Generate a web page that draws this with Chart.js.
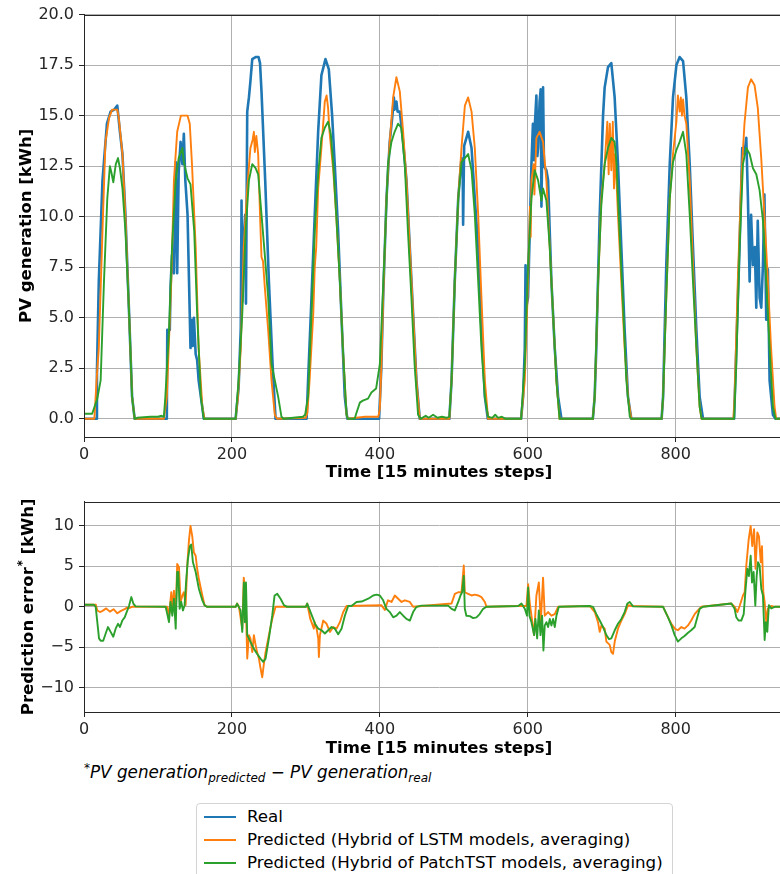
<!DOCTYPE html>
<html>
<head>
<meta charset="utf-8">
<script src="https://cdn.jsdelivr.net/npm/chart.js@4/dist/chart.umd.min.js"></script>
<style>
html,body{margin:0;padding:0;overflow:hidden;background:#fff;}
body{width:780px;height:874px;position:relative;font-family:'DejaVu Sans',sans-serif;}
#w1{position:absolute;left:0;top:0;}
#w2{position:absolute;left:0;top:487px;}
canvas{display:block;}
#foot{position:absolute;left:84px;top:761px;font-size:16.8px;font-style:italic;white-space:nowrap;color:#000;}
#foot sub{font-size:12px;vertical-align:-4px;}
#foot sup{font-size:12px;vertical-align:6px;font-style:normal;}
#legend{position:absolute;left:196px;top:803px;width:477px;height:90px;border:1px solid #d4d4d4;border-radius:4px;box-sizing:border-box;background:#fff;}
.li{position:absolute;left:0;height:23px;white-space:nowrap;font-size:16.7px;color:#000;}
.li span.h{position:absolute;left:7px;top:11px;width:32px;height:0;border-top:2px solid;}
.li span.t{position:absolute;left:50px;top:1px;}
</style>
</head>
<body>
<div id="w1"><canvas id="c1" width="820" height="490"></canvas></div>
<div id="w2"><canvas id="c2" width="820" height="274"></canvas></div>
<div id="foot"><sup>*</sup>PV generation<sub>predicted</sub> − PV generation<sub>real</sub></div>
<div id="legend"></div>
<script>
// ---------- data ----------
const seriesLabels = ['Real', 'Predicted (Hybrid of LSTM models, averaging)', 'Predicted (Hybrid of PatchTST models, averaging)'];
const seriesColors = ['#1f77b4', '#ff7f0e', '#2ca02c'];

const xTicks = [0, 200, 400, 600, 800];
const yTicksTop = [0, 2.5, 5, 7.5, 10, 12.5, 15, 17.5, 20];
const yTicksBottom = [-10, -5, 0, 5, 10];

const realX = [0,17,17.5,20,25,31,36,41,45,48.6,52,56,61,65,68.5,
112,112.6,116,117,119,121.6,124,126,128,130.6,133,135,137,140,142,144,146,147,148.6,151,153,155,158,162,
205,209,212,213,214,216,218,219,220.7,223,225,227.5,232,236,238,240,245,250,255,259,
301,303,307.6,312,316.6,321,326.5,331,335.5,339,343.6,348,352.6,356,
399,402,404.5,409,413.4,417,419,420,422.4,424,427,431.5,436,440.5,445,449.5,454,
494,497,501.3,506,510.4,512,512.6,514,519.4,524,528.4,533,537.4,542,546,
591,593.7,596,597,598,600.4,602.7,605,607,608.5,609.4,611.7,613,614,616,617.5,618.5,620.7,622,625.2,627.5,629.7,632,636.5,641,645.5,
688,690.5,692.7,697.3,701.8,704,708.5,713,717.5,722,726.5,731,735.5,740,
781,783,787.3,792,796.4,801,805.4,810,814.4,819,823.4,828,832.4,837,
879,882,886.4,890,893,895.5,897.7,900,902,904.5,907,909,911,913.5,915.7,918,920,922.5,924.7,927,931.5,935,960];
const realY = [0,0,2.3,6.8,11.8,14.6,15.2,15.3,15.5,14.2,13.1,10.1,5.2,1.1,0,
0,4.4,4.4,6.5,8.1,7.2,12.7,7.2,12.2,13.7,12.6,14.1,11.8,10.1,6.8,3.5,4.9,3.6,5.0,3.2,2.9,1.9,1.1,0,
0,1.5,4.5,10.8,5.8,9,10.1,5.7,15.2,15.9,16.7,17.8,17.9,17.9,17.6,16.2,11.8,6.8,2.7,0,
0,1.9,6.0,10.1,14.2,17.0,17.8,17.3,15.0,12.6,9.3,5.2,1.1,0,
0,2.5,6.0,10.9,13.7,15.0,15.9,15.3,15.7,15.2,15.2,13.7,11.8,8.5,5.2,1.9,0,
0,1.9,6.8,10.9,12.9,12.8,9.6,13.5,14.2,13.4,10.9,8.5,4.4,1.1,0,
0,1.1,3.5,7.6,5.5,6.0,9.3,12.6,14.6,12.8,14.4,16.0,13.0,13.4,15.7,16.3,10.5,16.4,12.5,12.3,11.8,9.3,6.8,3.5,1.1,0,
0,1.1,3.5,10.1,15.0,16.4,17.4,17.6,15.9,12.6,8.5,4.4,1.1,0,
0,1.1,7.6,12.6,15.9,17.5,17.9,17.7,15.9,12.6,8.5,4.4,1.1,0,
0,3.5,8.5,13.4,13.1,13.9,10.9,6.8,10.1,7.6,8.5,5.5,9.8,6.0,5.5,7.6,11.1,4.9,7.4,1.9,0.2,0,0];

const lstmX = [0,14,17,20,25,29,34,38,45,47,52,56,61,65,68.5,
108,112,118,121.6,126,131,140,143,146,151,155,160,163,
205,208,212,216,220.7,225,228,229.7,231,233,235.5,238,240,242,244.5,249,253.5,258,261,
300,302,305,310,312,314,316.6,321,325.6,328,330,332,337,341,346,350,355,357,
380,398,400,402,404.5,409,413.4,418,422.4,427,431.5,436,440.5,445,449.5,454,
494,497,501.3,506,510.4,515,519.4,524,528.4,533,537.4,542,546.4,
591,596,600.4,603,604,605,608,609,611.7,616,620.7,625.2,629.7,634.2,638.7,643,
688,690.5,695,699.5,704,707.6,709.4,711,713,715,716.6,718.4,722,726.5,731,735.5,740,
781,783,787.3,792,796.4,801,803,805.4,807,808.5,810,812,814.4,819,823.4,828,832.4,835,
878,879.7,884,888.7,893,897.7,902,906.7,911,915.7,920,924.7,929,933.7,936,960];
const lstmY = [0,0,1.9,3.5,9.3,13.7,14.9,15.3,15.3,14.9,13.1,10.0,5.2,1.1,0,
0,1.1,6.8,11.8,14.2,15.0,15.0,14.6,12.6,8.5,3.5,0.6,0,
0,1.0,3.5,8.5,11.4,13.4,13.8,14.2,13.2,14.0,13.1,10.1,8.0,7.8,6.5,4.4,1.9,0.2,0,
0.05,0.3,1.9,5.2,7.5,8.5,11.4,13.4,15.7,16.0,15.4,14.2,12.3,10.1,6.8,3.5,0.2,0,
0.1,0.1,0.5,2.5,6.0,10.9,13.7,15.9,16.9,16.2,14.2,11.8,8.5,5.2,1.9,0,
0,1.9,6.8,10.9,13.4,15.5,15.9,15.2,13.4,10.1,6.0,1.9,0,
0,1.9,6.8,10.5,9.0,11.8,12.6,11.1,13.9,14.2,13.7,11.8,8.5,5.2,1.9,0,
0,1.1,6.5,10.9,12.6,14.7,12.1,14.6,12.3,14.7,11.4,13.1,10.1,6.8,3.5,1.1,0,
0,1.1,6.0,10.9,13.1,14.7,16.0,15.2,15.9,15.0,15.8,15.0,14.6,11.8,7.6,3.5,0.6,0,
0,1.1,6.8,11.8,14.6,16.4,16.8,16.5,15.4,12.9,10.1,6.8,3.5,0.6,0,0];

const tstX = [0,11,18,22.5,27,31.5,35,37,39.6,43,46,48.6,52,56,61,65,68.5,
72,90,100,105,108,110,115,119,124,128,133,135,140,144,149,153,158,162,
205,209,214,218.5,223,227.5,232,235.5,240,244.5,249,253.5,258,262.5,267,270,
296,299,303,307.6,312,316.6,321,325.6,330,333.7,337,341,346,350,355,357,366,368,373,377,384,388.6,395,400,402,406.7,411,415.7,420,424.7,429,433.7,438,442.7,447,451.7,455,462,466,472,478,484,490,494,
497,501.3,506,510.4,515,519.4,524,528.4,533,537.4,542,546.4,552,556,560,565,570,591,
596,600.4,605,609.4,614,618.5,620.7,625.2,629.7,634.2,638.7,643,
688,690.5,695,699.5,704,708.5,713,717.5,720,724,729,733.3,738,740,
781,783,787.3,792,796.4,801,805.4,810,814.4,819,823.4,828,832.4,835,
879,882,886.4,891,895.5,900,904.5,909,913.5,918,922.5,927,931.5,935,960];
const tstY = [0.25,0.25,1.0,1.9,6.8,10.9,12.5,12.2,11.7,12.6,12.9,12.4,11.4,9.3,5.2,1.1,0,
0.05,0.1,0.1,0.15,0.1,1.1,4.4,8.5,11.8,12.9,13.4,12.7,11.9,11.6,9.3,5.2,1.1,0,
0,1.9,5.2,9.3,11.8,12.6,12.4,12.1,10.1,8.1,6.0,2.7,1.9,1.1,0.1,0,
0.1,0.2,1.1,5.2,9.3,12.1,13.9,14.4,14.7,14.1,12.6,10.1,6.8,3.5,0.2,0,0,0.25,0.8,0.9,1.0,1.3,1.5,2.7,4.4,8.5,12.6,13.7,14.2,14.6,14.4,12.6,9.3,6.0,2.7,0.2,0,0.15,0.05,0.2,0.05,0.1,0.05,0.1,
1.9,6.8,10.9,12.7,12.9,13.1,12.3,10.1,6.8,3.5,1.1,0.1,0.05,0.2,0.05,0.1,0,0,
2.7,7.6,10.9,12.3,11.8,10.8,11.4,10.8,8.5,5.2,1.9,0,
0,1.1,6.8,10.6,12.6,13.4,13.9,13.7,12.6,9.3,5.5,1.9,0.1,0,
0,1.1,6.0,10.9,12.7,13.3,13.7,14.2,13.1,10.1,6.8,3.5,0.6,0,
0,2.7,8.5,12.6,13.4,13.1,12.4,12.1,11.3,9.8,6.8,3.5,0.6,0,0];

const errLstmX = [0,16,18,21.6,25,30,35,40,45,50,55,58,60,65,
112.6,115,118,119.4,121.6,124,126,128.4,130.6,133,135,137.4,139.6,142,144,146.4,148.6,151,153,155.4,160,163,166.7,
205,207,209.5,214,216,218.5,220.7,223,225,227.5,229.7,232,234,236.5,238.7,241,243,245.5,250,254.5,259,
300,301.8,306,310.8,312,314.5,316.7,317.6,319,323.5,328,332.5,337,341.5,346,350.5,355,
402,406.8,411,415.8,420.3,424.8,429.3,433.8,440.6,445,
497,501.4,506,510.4,513.5,514.9,519.4,524,528.4,533,537.4,542,544.2,
587,598.2,600.5,602.7,605,608.6,611.7,615,617.6,620.7,623,627.5,632,636.5,641,
683.8,690.6,695,697.3,699.6,704,706.3,710.8,713,715.3,717.6,722,726.6,731,735.6,740,
783,789.7,794.2,798.7,803,807.7,812,816.7,821,825.7,830,834.7,
875,879.7,883.4,886.5,891,893.3,895.5,898.7,901.4,903.6,906,908,910.4,912.6,915,916.7,918.5,920.3,922.5,924.8,929.3,933.8,960];
const errLstmY = [0.25,0.25,-0.45,-0.65,-0.5,-0.2,-0.6,-0.3,-0.8,-0.5,-0.3,-0.1,-0.2,0,
0,-1.1,1.8,-0.2,2.0,-1.0,5.3,4.9,0.6,1.4,1.8,0.2,5.1,8.3,10.0,8.7,6.7,6.3,4.7,3.4,1.4,0.2,0,
0,0.4,0,-2.7,3.6,1.4,-6.4,-3.5,-3.9,-5.6,-3.5,-4.7,-5.6,-6.4,-7.6,-8.7,-7.2,-5.6,-3.5,-1.5,0,
0,0.4,-1.5,-2.7,-1.9,-2.7,-3.9,-6.2,-3.5,-1.7,-2.1,-3.1,-2.5,-2.7,-1.9,-0.65,0.1,
0.2,-0.4,0.8,0.6,1.4,1.0,0.6,0.8,0.6,0,
0.4,1.6,1.8,1.8,5.1,1.8,1.6,1.4,1.5,1.4,1.2,0.6,0,
0.1,0.1,2.8,0.5,-1.1,-3.5,1.4,3.0,-1.9,3.6,-1.1,-0.65,-1.1,-0.9,0,
0.1,-0.65,-1.9,-3.1,-2.3,-2.7,-4.3,-4.7,-5.6,-5.8,-4.3,-2.7,-1.7,-0.9,0.2,0.1,
0,-1.3,-2.1,-2.7,-2.9,-2.5,-2.7,-2.3,-1.7,-0.9,-0.45,0,
0.4,0,-0.65,0.1,1.4,1.8,5.1,8.3,10.0,7.5,9.6,4.7,9.2,8.7,5.5,7.5,1.8,0.6,-1.9,-0.2,0.1,0,0];

const errTstX = [0,13.5,15.8,18,20.3,22.5,26,29.3,32.4,36,39.6,42.8,46,48.6,51.8,55,57.7,60.8,64,66.7,69.8,
110.4,112.6,114.9,117,119.4,121.6,124,126,127.5,129.3,131.5,133.8,136,138.3,140.5,143.2,145,147.3,151,155.4,160,163,166,
205,207,211.7,214,216.2,217.6,219,220.7,225,229.7,234,238.7,242.3,245.5,250,254.5,257.7,261.3,265.8,270.3,274.8,
300,301.8,306.3,310.8,312.2,316.7,321.2,325.7,330.2,334.7,339.2,343.7,348.2,352.7,357.2,361.7,368.5,375.3,384.3,391,395.5,400,404.5,409,413.5,418,422.6,427,431.6,436,440.6,445,449.6,456.3,492.4,497,501.4,506,509,511.3,513.5,514.9,517,521.7,526.2,530.7,535,539.7,544.2,
587,591.5,596,599,600.5,602.3,605,608.6,610.4,612.7,615,617.2,619.4,621.2,623,625.3,627.5,629.8,632,634.3,636.5,638.8,642,
683.8,688.3,692.8,697.3,701.8,706.3,710,713,717.6,722,726.6,731,734.7,737.9,742.4,
783,789.7,794.2,798.7,803,807.7,812,816.7,821,825.7,829.3,832.5,837,
875.3,879.7,882,885,888.7,892,894.2,896.9,899,901.4,903.2,905.4,907.7,909.5,911.3,913.5,915.8,918,920.3,922,923.9,926,929.3,933.8,960];
const errTstY = [0.25,0.25,0,-1.9,-3.9,-4.2,-4.2,-3.3,-2.5,-3.1,-3.7,-2.7,-2.1,-2.5,-1.7,-1.3,-0.65,0.1,1.2,0.4,0.05,
0,-0.9,-1.9,0.6,-1.1,1.0,-2.7,4.3,4.3,-0.25,0.6,-0.45,0.2,3.4,5.9,7.5,7.7,5.5,4.3,2.2,0.8,0.2,0,
0,0.4,-0.45,-3.1,3.0,-1.9,3.0,-3.5,-4.3,-5.2,-5.8,-6.4,-6.8,-6.4,-3.9,-1.1,1.4,1.6,1.0,0.2,0,
0,0.4,-0.65,-1.7,-2.1,-2.7,-2.9,-3.3,-2.9,-2.5,-2.7,-3.4,-2.7,-1.1,0.1,0.1,0.6,0.65,1.0,1.4,1.5,1.4,0.8,-0.25,-0.65,-1.3,-1.1,-0.65,-1.1,-1.5,-1.7,-0.65,0,0.15,0.15,-0.25,-0.45,0.6,1.4,1.8,3.8,-0.25,-1.1,-1.15,-1.4,-1.3,-0.9,-0.25,0,
0.1,0.4,-0.25,-1.1,2.4,-1.1,-1.9,-3.5,-1.5,-3.9,-0.45,-3.5,-1.1,-5.4,-2.3,-1.9,-2.5,-1.5,-2.3,-1.5,-2.5,-1.1,0,
0.1,0,-0.9,-1.7,-2.5,-3.5,-4.0,-3.9,-2.9,-2.1,-1.5,-0.65,0.4,0.6,0.05,
0,-1.3,-2.3,-3.5,-4.3,-3.9,-3.6,-3.2,-2.9,-2.5,-1.3,-0.25,0,
0.4,-0.25,-1.3,-1.7,-1.7,-0.9,1.8,4.7,3.8,6.3,3.0,4.3,0.15,3.8,5.5,5.1,2.2,1.4,-4.1,-1.9,-3.1,0.2,-0.2,0,0];

// ---------- helpers ----------
function pts(xs, ys) { return xs.map((x, i) => ({x: x, y: ys[i]})); }
const FONT = 'DejaVu Sans';
const GRID = '#b0b0b0';
const SPINE = '#262626';

const framePlugin = {
  id: 'frame',
  afterDatasetsDraw(chart) {
    const a = chart.chartArea, ctx = chart.ctx;
    ctx.save();
    ctx.strokeStyle = SPINE;
    ctx.lineWidth = 1;
    ctx.strokeRect(Math.round(a.left) + 0.5, Math.round(a.top) + 0.5, Math.round(a.right - a.left), Math.round(a.bottom - a.top));
    ctx.restore();
  }
};

function xScale(titlePadBottom, h) {
  return {
    type: 'linear', min: 0, max: 960,
    afterBuildTicks: s => { s.ticks = xTicks.map(v => ({value: v})); },
    afterFit: s => { s.height = h; },
    grid: {color: GRID, lineWidth: 1, tickLength: 5, tickColor: SPINE, drawTicks: true},
    border: {display: true, color: SPINE, width: 1},
    ticks: {font: {family: FONT, size: 16}, color: '#262626', padding: 3, maxRotation: 0, autoSkip: false, callback: v => String(v)},
    title: {display: true, text: 'Time [15 minutes steps]', color: '#000', font: {family: FONT, size: 16.5, weight: 'bold'}, padding: {top: 0, bottom: titlePadBottom}}
  };
}

function lineDs(label, data, color, width, order) {
  return {label: label, data: data, borderColor: color, backgroundColor: color, borderWidth: width,
    pointRadius: 0, pointHoverRadius: 0, tension: 0, fill: false, order: order, borderJoinStyle: 'round', borderCapStyle: 'round'};
}

// ---------- top chart ----------
new Chart(document.getElementById('c1'), {
  type: 'line',
  data: {
    datasets: [
      lineDs(seriesLabels[0], pts(realX, realY), seriesColors[0], 2.6, 3),
      lineDs(seriesLabels[1], pts(lstmX, lstmY), seriesColors[1], 1.9, 2),
      lineDs(seriesLabels[2], pts(tstX, tstY), seriesColors[2], 1.9, 1)
    ]
  },
  options: {
    responsive: false, animation: false, devicePixelRatio: 1, parsing: false,
    layout: {padding: {left: 0, right: 26, top: 14, bottom: 0}},
    plugins: {legend: {display: false}, tooltip: {enabled: false}},
    scales: {
      x: xScale(7, 53),
      y: {
        min: -0.9, max: 20,
        afterBuildTicks: s => { s.ticks = yTicksTop.map(v => ({value: v})); },
        afterFit: s => { s.width = 84; },
        grid: {color: GRID, lineWidth: 1, tickLength: 5, tickColor: SPINE, drawTicks: true},
        border: {display: true, color: SPINE, width: 1},
        ticks: {font: {family: FONT, size: 16}, color: '#262626', padding: 5, callback: v => Number(v).toFixed(1)},
        title: {display: true, text: 'PV generation [kWh]', color: '#000', font: {family: FONT, size: 16.5, weight: 'bold'}, padding: {top: 17, bottom: 0}}
      }
    }
  },
  plugins: [framePlugin]
});

// ---------- bottom chart ----------
const supTitlePlugin = {
  id: 'supTitle',
  afterDraw(chart) {
    const a = chart.chartArea, ctx = chart.ctx;
    const cy = (a.top + a.bottom) / 2;
    const big = 'bold 16.5px "' + FONT + '"', small = 'bold 11.5px "' + FONT + '"';
    const p1 = 'Prediction error', p2 = '*', p3 = ' [kWh]';
    ctx.save();
    ctx.fillStyle = '#000';
    ctx.textBaseline = 'alphabetic';
    ctx.font = big; const w1 = ctx.measureText(p1).width, w3 = ctx.measureText(p3).width;
    ctx.font = small; const w2 = ctx.measureText(p2).width + 1;
    const total = w1 + w2 + w3;
    ctx.translate(33, cy);
    ctx.rotate(-Math.PI / 2);
    let x = -total / 2;
    ctx.font = big; ctx.fillText(p1, x, 0); x += w1 + 1;
    ctx.font = small; ctx.fillText(p2, x, -7); x += w2 - 1;
    ctx.font = big; ctx.fillText(p3, x, 0);
    ctx.restore();
  }
};

new Chart(document.getElementById('c2'), {
  type: 'line',
  data: {
    datasets: [
      lineDs(seriesLabels[1], pts(errLstmX, errLstmY), seriesColors[1], 1.9, 2),
      lineDs(seriesLabels[2], pts(errTstX, errTstY), seriesColors[2], 1.9, 1)
    ]
  },
  options: {
    responsive: false, animation: false, devicePixelRatio: 1, parsing: false,
    layout: {padding: {left: 0, right: 26, top: 14, bottom: 0}},
    plugins: {legend: {display: false}, tooltip: {enabled: false}},
    scales: {
      x: xScale(2, 49),
      y: {
        min: -13, max: 13,
        afterBuildTicks: s => { s.ticks = yTicksBottom.map(v => ({value: v})); },
        afterFit: s => { s.width = 84; },
        grid: {color: GRID, lineWidth: 1, tickLength: 5, tickColor: SPINE, drawTicks: true},
        border: {display: true, color: SPINE, width: 1},
        ticks: {font: {family: FONT, size: 16}, color: '#262626', padding: 5, callback: v => (v < 0 ? '\u2212' + Math.abs(v) : String(v))},
        title: {display: false}
      }
    }
  },
  plugins: [framePlugin, supTitlePlugin]
});

// ---------- legend ----------
const leg = document.getElementById('legend');
seriesLabels.forEach((lab, i) => {
  const row = document.createElement('div');
  row.className = 'li';
  row.style.top = (1 + i * 23) + 'px';
  row.style.width = '100%';
  const h = document.createElement('span'); h.className = 'h'; h.style.borderTopColor = seriesColors[i];
  const t = document.createElement('span'); t.className = 't'; t.textContent = lab;
  row.appendChild(h); row.appendChild(t);
  leg.appendChild(row);
});
</script>
</body>
</html>
